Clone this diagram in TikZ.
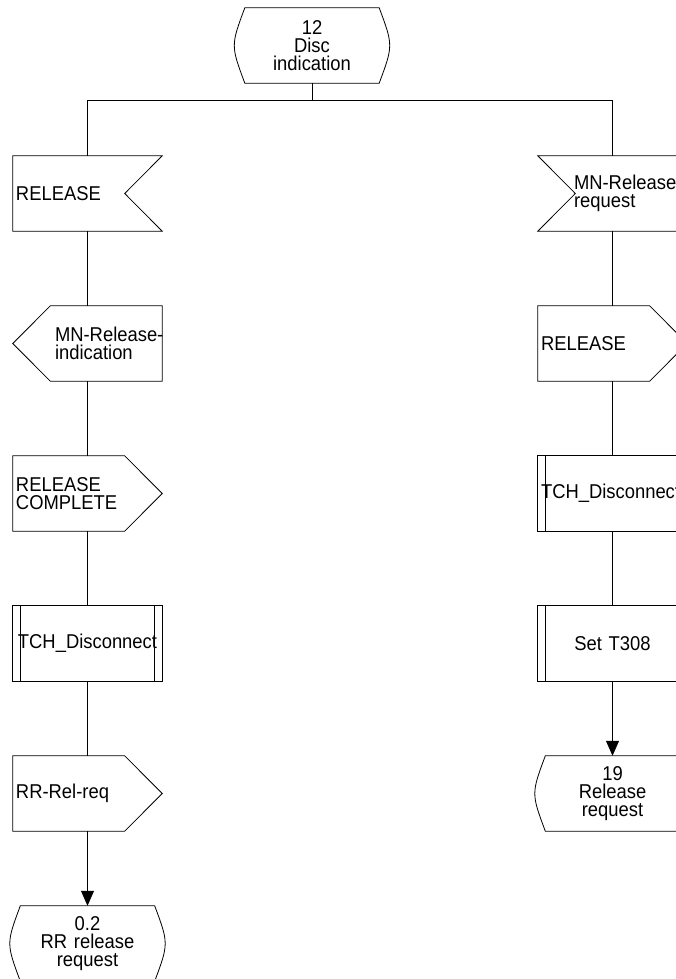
\documentclass[tikz,border=0pt]{standalone}
\usepackage{fontspec}
\setmainfont{Liberation Sans}[FakeStretch=0.92]
\usetikzlibrary{arrows.meta}

\tikzset{
  sdl/.style={minimum width=149pt, minimum height=75pt, inner sep=0pt,
    font=\fontsize{20}{18.3}\selectfont},
  kiri/.style={sdl, text width=#1, align=left},
  kiri/.default=143pt,
  tengah/.style={sdl, text width=143pt, align=center},
  garis/.style={line width=0.8pt},
  panah/.style={garis, -{Triangle[length=15pt,width=13pt]}}
}

\begin{document}
\begin{tikzpicture}[x=1pt, y=-1pt]

      \useasboundingbox (0,0) rectangle (676,979);

      % ujung panah, lengkung, kolom
      \def\ujung{37.5pt}
      \def\lengkung{7pt}
      \def\ki{87.5}
      \def\ka{612.5}

      % Keadaan awal
      \node[tengah, minimum width=148pt] (disc12) at (312,45.5) {12\\Disc\\indication};

      % Kolom kiri
      \node[kiri] (relIn) at (\ki,193.5) {RELEASE};
      \node[kiri=65pt] (mnRelInd) at (\ki,343.5) {\mbox{MN-Release-}\\indication};
      \node[kiri] (relComp) at (\ki,493.5) {RELEASE\\COMPLETE};
      \node[tengah] (tchKiri) at (\ki,643.5) {TCH\_Disconnect};
      \node[kiri] (rrRel) at (\ki,793.5) {RR-Rel-req};
      \node[tengah, minimum width=148pt] (st02) at (\ki,943.5) {0.2\\RR release\\request};

      % Kolom kanan
      \node[kiri=77pt] (mnRelReq) at (\ka,193.5) {\mbox{MN-Release}\\request};
      \node[kiri] (relOut) at (\ka,343.5) {RELEASE};
      \node[kiri] (tchKanan) at (\ka,493.5) {TCH\_Disconnect};
      \node[tengah] (setT308) at (\ka,643.5) {Set T308};
      \node[tengah, minimum width=148pt] (st19) at (\ka,793.5) {19\\Release\\request};

      % Input (takik kanan)
      \foreach \n in {relIn} {
          \draw[garis] (\n.north west) -- (\n.north east) -- ([xshift=-\ujung]\n.east)
            -- (\n.south east) -- (\n.south west) -- cycle;
        }

      % Input (takik kiri)
      \foreach \n in {mnRelReq} {
          \draw[garis] (\n.north west) -- (\n.north east) -- (\n.south east)
            -- (\n.south west) -- ([xshift=\ujung]\n.west) -- cycle;
        }

      % Output ke kanan
      \foreach \n in {relComp, rrRel, relOut} {
          \draw[garis] (\n.north west) -- ([xshift=-\ujung]\n.north east) -- (\n.east)
            -- ([xshift=-\ujung]\n.south east) -- (\n.south west) -- cycle;
        }

      % Output ke kiri
      \foreach \n in {mnRelInd} {
          \draw[garis] ([xshift=\ujung]\n.north west) -- (\n.north east) -- (\n.south east)
            -- ([xshift=\ujung]\n.south west) -- (\n.west) -- cycle;
        }

      % Prosedur (garis ganda)
      \foreach \n in {tchKiri, tchKanan, setT308} {
          \draw[garis] (\n.north west) rectangle (\n.south east);
          \draw[garis] ([xshift=7.5pt]\n.north west) -- ([xshift=7.5pt]\n.south west);
          \draw[garis] ([xshift=-7.5pt]\n.north east) -- ([xshift=-7.5pt]\n.south east);
        }

      % Keadaan (sisi melengkung)
      \foreach \n in {disc12, st02, st19} {
          \draw[garis] ([xshift=\lengkung]\n.north west) -- ([xshift=-\lengkung]\n.north east)
            .. controls ([xshift=\lengkung]\n.east) .. ([xshift=-\lengkung]\n.south east)
            -- ([xshift=\lengkung]\n.south west)
            .. controls ([xshift=-\lengkung]\n.west) .. ([xshift=\lengkung]\n.north west) -- cycle;
        }

      % Percabangan
      \coordinate (cabang) at (312,100.5);
      \draw[garis] (disc12.south) -- (cabang);
      \draw[garis] (relIn.north) |- (cabang) -| (mnRelReq.north);

      % Garis penghubung
      \draw[garis] (relIn.south) -- (mnRelInd.north);
      \draw[garis] (mnRelInd.south) -- (relComp.north);
      \draw[garis] (relComp.south) -- (tchKiri.north);
      \draw[garis] (tchKiri.south) -- (rrRel.north);
      \draw[panah] (rrRel.south) -- (st02.north);
      \draw[garis] (mnRelReq.south) -- (relOut.north);
      \draw[garis] (relOut.south) -- (tchKanan.north);
      \draw[garis] (tchKanan.south) -- (setT308.north);
      \draw[panah] (setT308.south) -- (st19.north);
    \end{tikzpicture}
\end{document}
